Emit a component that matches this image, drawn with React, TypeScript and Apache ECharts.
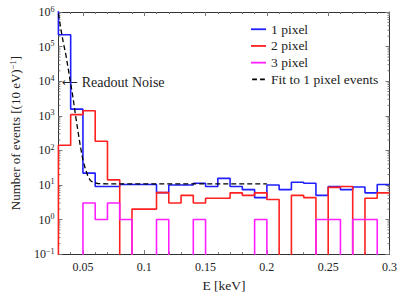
import React, { useEffect, useRef } from "react";
import * as echarts from "echarts";

// Left edges of the 10 eV bins (keV); the last bin ends at binEnd
const binStarts = [
  0.02, 0.03, 0.04, 0.05, 0.06, 0.07, 0.08, 0.09, 0.1, 0.11, 0.12, 0.13, 0.14,
  0.15, 0.16, 0.17, 0.18, 0.19, 0.2, 0.21, 0.22, 0.23, 0.24, 0.25, 0.26, 0.27,
  0.28, 0.29,
];
const binEnd = 0.3;

const onePixel = [
  3000000, 220000, 1550, 22, 9, 9, 10.3, 10.3, 10.3, 6, 10, 10, 11.2, 9, 15.5,
  9, 7.3, 4.3, 10, 7.3, 12, 11.2, 5, 9, 7.3, 8.7, 5.9, 10.3,
];
const twoPixel = [
  0, 140, 1080, 1400, 183, 14, 0, 2, 2, 6, 3, 5, 3, 4.1, 4.1, 5.9, 5, 5.9, 3.8,
  0, 5, 4.3, 0, 8.5, 9, 0, 4.1, 5.9,
];
const threePixel = [
  0, 0, 0, 3, 1, 3, 1, 0, 0, 1, 0, 0, 1, 0, 0, 0, 0, 1, 0, 0, 0, 0, 1, 1, 0, 1,
  1, 0,
];

const fitE = [
  0.03, 0.032, 0.034, 0.036, 0.038, 0.04, 0.042, 0.044, 0.046, 0.048, 0.05,
  0.052, 0.054, 0.056, 0.058, 0.062, 0.07, 0.2,
];
const fitCounts = [
  900000, 320000, 130000, 60000, 23000, 8500, 3200, 1000, 350, 125, 52, 29, 18,
  13.5, 12, 11, 10.7, 10.7,
];

const seriesNames = ["1 pixel", "2 pixel", "3 pixel", "Fit to 1 pixel events"];

const xMin = 0.03;
const xMax = 0.3;
const yMin = 0.1;
const yMax = 1000000;

const FONT = "'Liberation Serif', 'DejaVu Serif', serif";
const TEXT = "#222";
const TICK = "#777";
const FRAME = "#333";
const BLUE = "#1f1fff";
const RED = "#ff2020";
const MAGENTA = "#ff1fff";

function histData(values: number[]) {
  const pts: [number, number][] = binStarts.map((e, i) => [
    e,
    values[i] > 0 ? values[i] : 0.001,
  ]);
  const last = values[values.length - 1];
  pts.push([binEnd, last > 0 ? last : 0.001]);
  return pts;
}

const minorYTicks: number[] = [];
for (let k = -1; k < 6; k++) {
  for (let m = 2; m <= 9; m++) minorYTicks.push(m * Math.pow(10, k));
}

export default function App() {
  const ref = useRef<HTMLDivElement>(null);

  useEffect(() => {
    if (!ref.current) return;
    const chart = echarts.init(ref.current, null, { renderer: "svg" });

    const supLabel = (v: number) => {
      const e = Math.round(Math.log10(v));
      const s = e < 0 ? "\u2212" + -e : String(e);
      return `{b|10}{s|${s}}`;
    };

    chart.setOption({
      animation: false,
      backgroundColor: "#fff",
      grid: { left: 43.7, right: 8, top: 12, bottom: 34.3 },
      legend: {
        orient: "vertical",
        left: 246,
        top: 17,
        itemWidth: 15,
        itemHeight: 1.8,
        itemGap: 2.2,
        symbolKeepAspect: true,
        data: [
          { name: seriesNames[0], icon: "rect" },
          { name: seriesNames[1], icon: "rect" },
          { name: seriesNames[2], icon: "rect" },
          {
            name: seriesNames[3],
            icon: "path://M0,0h4v1.5h-4zM6.6,0h4v1.5h-4z",
          },
        ],
        textStyle: { fontFamily: FONT, fontSize: 13.5, color: TEXT, lineHeight: 14.5 },
      },
      xAxis: [
        {
          type: "value",
          min: xMin,
          max: xMax,
          splitNumber: 5,
          splitLine: { show: false },
          axisLine: { show: true, onZero: false, lineStyle: { color: FRAME, width: 1 } },
          axisTick: { inside: true, length: 4, lineStyle: { color: TICK } },
          minorTick: { show: true, splitNumber: 5, length: 2, lineStyle: { color: TICK } },
          axisLabel: {
            showMinLabel: false,
            fontFamily: FONT,
            fontSize: 12,
            color: TEXT,
            margin: 7,
          },
          name: "E [keV]",
          nameLocation: "middle",
          nameGap: 20,
          nameTextStyle: { fontFamily: FONT, fontSize: 13.5, color: TEXT },
        },
        {
          type: "value",
          position: "top",
          min: xMin,
          max: xMax,
          splitNumber: 5,
          splitLine: { show: false },
          axisLine: { show: true, onZero: false, lineStyle: { color: FRAME, width: 1 } },
          axisTick: { inside: true, length: 4, lineStyle: { color: TICK } },
          minorTick: { show: true, splitNumber: 5, length: 2, lineStyle: { color: TICK } },
          axisLabel: { show: false },
        },
      ],
      yAxis: [
        {
          type: "log",
          logBase: 10,
          min: yMin,
          max: yMax,
          splitNumber: 7,
          splitLine: { show: false },
          axisLine: { show: true, onZero: false, lineStyle: { color: FRAME, width: 1 } },
          axisTick: { inside: true, length: 4, lineStyle: { color: TICK } },
          axisLabel: {
            formatter: supLabel,
            margin: 4,
            rich: {
              b: { fontFamily: FONT, fontSize: 12, lineHeight: 14, color: TEXT },
              s: {
                fontFamily: FONT,
                fontSize: 8,
                lineHeight: 7,
                verticalAlign: "top",
                color: TEXT,
              },
            },
          },
          name: "Number of events [(10 eV){s|\u22121}]",
          nameLocation: "middle",
          nameRotate: 90,
          nameGap: 27,
          nameTextStyle: {
            fontFamily: FONT,
            fontSize: 13,
            lineHeight: 15,
            color: TEXT,
            rich: {
              s: {
                fontFamily: FONT,
                fontSize: 8.5,
                lineHeight: 7,
                verticalAlign: "top",
                color: TEXT,
              },
            },
          },
        },
        {
          type: "log",
          logBase: 10,
          position: "right",
          min: yMin,
          max: yMax,
          splitNumber: 7,
          splitLine: { show: false },
          axisLine: { show: true, onZero: false, lineStyle: { color: FRAME, width: 1 } },
          axisTick: { inside: true, length: 4, lineStyle: { color: TICK } },
          axisLabel: { show: false },
        },
      ],
      graphic: [
        {
          type: "text",
          left: 62,
          top: 75,
          style: {
            text: "{a|\u27F5}Readout Noise",
            fontFamily: FONT,
            fontSize: 14,
            fill: TEXT,
            rich: {
              a: {
                fontFamily: "'DejaVu Sans', sans-serif",
                fontSize: 11,
                fill: TEXT,
                color: TEXT,
                padding: [0, 4, 0, 0],
              },
            },
          },
        },
      ],
      series: [
        {
          type: "custom",
          silent: true,
          clip: false,
          xAxisIndex: 0,
          yAxisIndex: 0,
          data: minorYTicks.map((v) => [xMin, v]),
          encode: { x: 0, y: 1 },
          renderItem: (params: any, api: any) => {
            const v = api.value(1);
            const l = api.coord([xMin, v]);
            const r = api.coord([xMax, v]);
            return {
              type: "group",
              children: [
                {
                  type: "line",
                  shape: { x1: l[0], y1: l[1], x2: l[0] + 2, y2: l[1] },
                  style: { stroke: TICK, lineWidth: 1 },
                },
                {
                  type: "line",
                  shape: { x1: r[0] - 2, y1: r[1], x2: r[0], y2: r[1] },
                  style: { stroke: TICK, lineWidth: 1 },
                },
              ],
            };
          },
        },
        {
          name: seriesNames[0],
          type: "line",
          step: "end",
          symbol: "none",
          clip: true,
          data: histData(onePixel),
          lineStyle: { color: BLUE, width: 1.6 },
          itemStyle: { color: BLUE },
        },
        {
          name: seriesNames[1],
          type: "line",
          step: "end",
          symbol: "none",
          clip: true,
          data: histData(twoPixel),
          lineStyle: { color: RED, width: 1.6 },
          itemStyle: { color: RED },
        },
        {
          name: seriesNames[2],
          type: "line",
          step: "end",
          symbol: "none",
          clip: true,
          data: histData(threePixel),
          lineStyle: { color: MAGENTA, width: 1.6 },
          itemStyle: { color: MAGENTA },
        },
        {
          name: seriesNames[3],
          type: "line",
          symbol: "none",
          clip: true,
          data: fitE.map((e, i) => [e, fitCounts[i]]),
          lineStyle: { color: "#000", width: 1.3, type: [5, 3] },
          itemStyle: { color: "#000" },
        },
      ],
    });

    return () => chart.dispose();
  }, []);

  return (
    <div
      ref={ref}
      style={{ position: "fixed", left: 0, top: 0, width: 400, height: 297 }}
    />
  );
}
